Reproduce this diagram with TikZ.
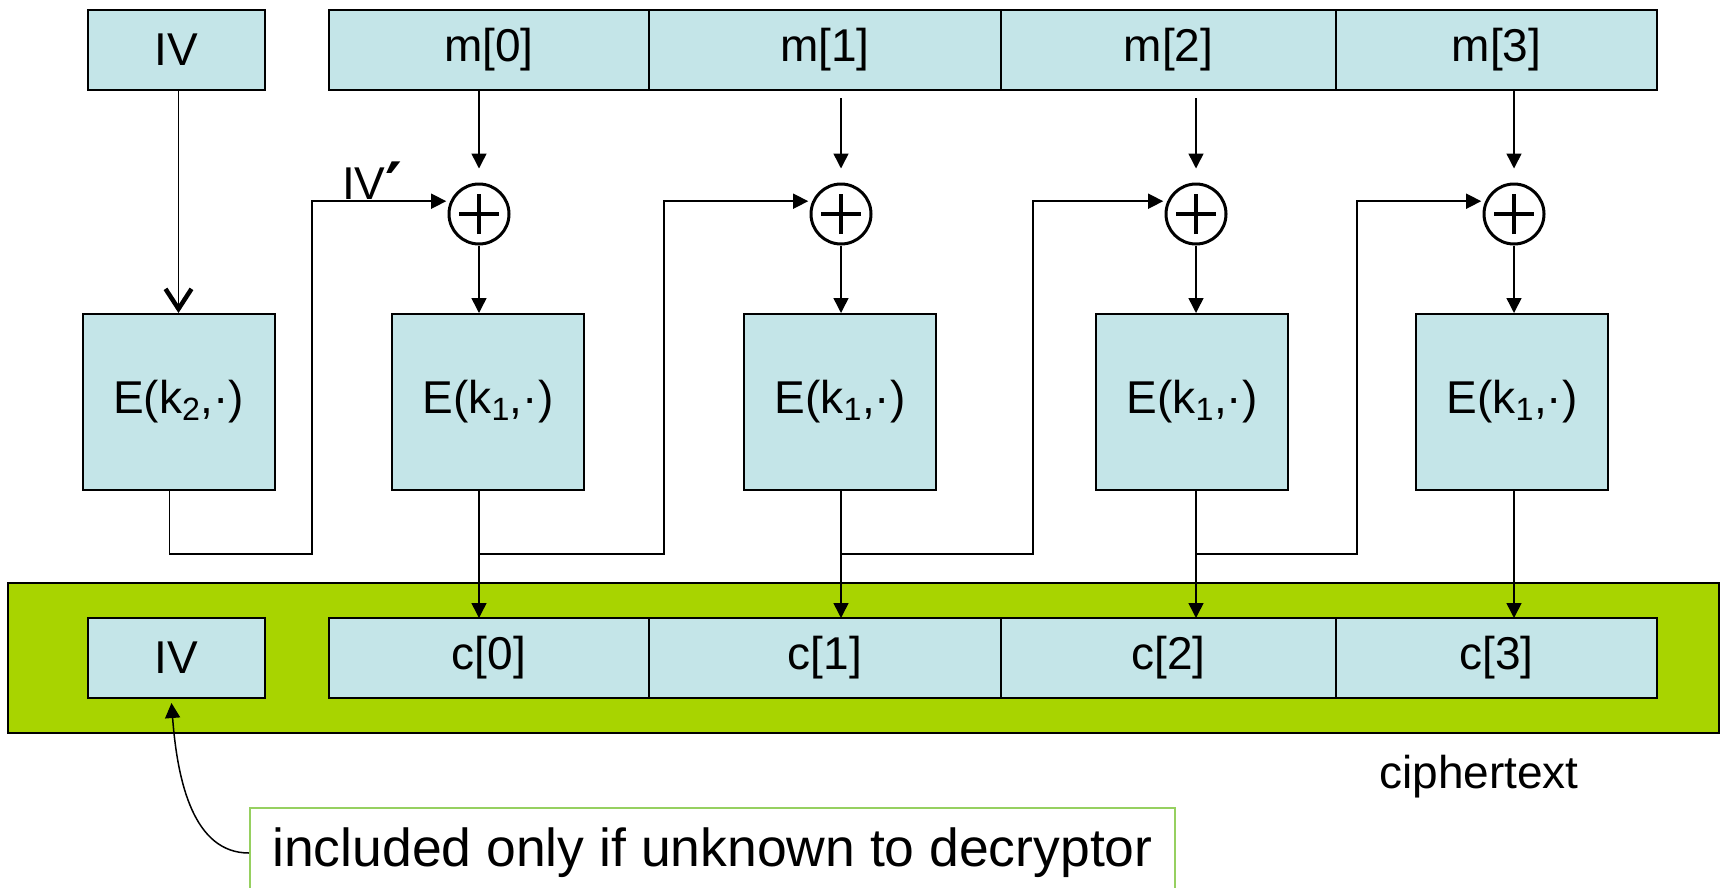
\RequirePackage{fix-cm}
\documentclass[tikz,border=0pt]{standalone}
\usepackage{fontspec}
\setmainfont{Liberation Sans}
\newfontfamily\primefont{DejaVu Sans}
\usetikzlibrary{positioning, arrows.meta}
\definecolor{cellblue}{RGB}{196,229,232}
\definecolor{ctgreen}{RGB}{168,212,0}
\definecolor{notegreen}{RGB}{150,208,96}
\newcommand{\bigfont}{\fontsize{46}{55}\selectfont}
\tikzstyle{block} = [rectangle, draw=black, line width=2pt, fill=cellblue, minimum height=80pt, outer sep=0pt, inner sep=0pt, font=\bigfont]
\tikzstyle{cipher} = [rectangle, draw=black, line width=2pt, fill=cellblue, minimum width=192pt, minimum height=176pt, inner sep=0pt, font=\bigfont]
\tikzstyle{xor} = [circle, draw=black, line width=3pt, minimum size=60pt, inner sep=0pt, path picture={
    \draw[line width=3.2pt] (path picture bounding box.center) ++(-20pt,0pt) -- ++(40pt,0pt);
    \draw[line width=3.2pt] (path picture bounding box.center) ++(0pt,-20pt) -- ++(0pt,40pt);}]
\tikzstyle{wire} = [line width=1.5pt]
\tikzstyle{arrow} = [line width=1.5pt, -{Triangle[length=15pt,width=15pt]}]

\begin{document}
\begin{tikzpicture}[x=1pt, y=-1pt]
		\useasboundingbox (0,0) rectangle (1725,887);
		\node (ctbox) [rectangle, draw=black, line width=2pt, fill=ctgreen, minimum width=1711pt, minimum height=150pt] at (863.5,658) {};

		\node (ivtop) [block, minimum width=177pt] at (176.5,50) {IV};
		\node (m0) [block, minimum width=320pt, anchor=west] at (329,50) {m[0]};
		\node (m1) [block, minimum width=352pt, right=0pt of m0] {m[1]};
		\node (m2) [block, minimum width=335pt, right=0pt of m1] {m[2]};
		\node (m3) [block, minimum width=321pt, right=0pt of m2] {m[3]};

		\node (x0) [xor] at (479,214) {};
		\node (x1) [xor] at (841,214) {};
		\node (x2) [xor] at (1196,214) {};
		\node (x3) [xor] at (1514,214) {};

		\node (ek2) [cipher] at (178.5,402) {E(k\textsubscript{2},·)};
		\node (e0) [cipher] at (488,402) {E(k\textsubscript{1},·)};
		\node (e1) [cipher] at (840,402) {E(k\textsubscript{1},·)};
		\node (e2) [cipher] at (1192,402) {E(k\textsubscript{1},·)};
		\node (e3) [cipher] at (1512,402) {E(k\textsubscript{1},·)};

		\node (ivbot) [block, minimum width=177pt] at (176.5,658) {IV};
		\node (c0) [block, minimum width=320pt, anchor=west] at (329,658) {c[0]};
		\node (c1) [block, minimum width=352pt, right=0pt of c0] {c[1]};
		\node (c2) [block, minimum width=335pt, right=0pt of c1] {c[2]};
		\node (c3) [block, minimum width=321pt, right=0pt of c2] {c[3]};

		\node (ctlabel) [anchor=base, font=\bigfont] at (1479,788) {ciphertext};
		\node (ivlabel) [anchor=base west, inner sep=0pt, font=\bigfont] at (342,199) {IV\raisebox{-9pt}{\primefont\bfseries\fontsize{64}{64}\selectfont ′}};
		\node (note) [rectangle, draw=notegreen, line width=2pt, minimum width=925pt, minimum height=90pt, anchor=north west, font=\fontsize{53.5}{64}\selectfont] at (249,807) {included only if unknown to decryptor};

		\coordinate (f0) at (312,554);
		\coordinate (f1) at (664,554);
		\coordinate (f2) at (1033,554);
		\coordinate (f3) at (1357,554);

		\draw [wire, -{Straight Barb[length=20pt,width=26pt,line width=4.5pt]}] (ek2.north |- ivtop.south) -- (ek2.north);
		\draw [arrow, shorten >=14pt] (x0 |- m0.south) -- (x0.north);
		\draw [arrow, shorten <=8pt, shorten >=14pt] (x1 |- m1.south) -- (x1.north);
		\draw [arrow, shorten <=8pt, shorten >=14pt] (x2 |- m2.south) -- (x2.north);
		\draw [arrow, shorten >=14pt] (x3 |- m3.south) -- (x3.north);

		\draw [arrow] (x0.south) -- (x0 |- e0.north);
		\draw [arrow] (x1.south) -- (x1 |- e1.north);
		\draw [arrow] (x2.south) -- (x2 |- e2.north);
		\draw [arrow] (x3.south) -- (x3 |- e3.north);

		\draw [arrow] (x0 |- e0.south) -- (x0 |- c0.north);
		\draw [arrow] (x1 |- e1.south) -- (x1 |- c1.north);
		\draw [arrow] (x2 |- e2.south) -- (x2 |- c2.north);
		\draw [arrow] (x3 |- e3.south) -- (x3 |- c3.north);

		\draw [arrow, shorten >=4pt] ([xshift=-9pt]ek2.south) |- (f0) |- (x0.156);
		\draw [arrow, shorten >=4pt] (x0 |- f1) -- (f1) |- (x1.156);
		\draw [arrow, shorten >=4pt] (x1 |- f2) -- (f2) |- (x2.156);
		\draw [arrow, shorten >=4pt] (x2 |- f3) -- (f3) |- (x3.156);

		\draw [arrow] (note.west) .. controls +(-55,0) and +(6,80) .. ([xshift=-5pt,yshift=-5pt]ivbot.south);
	\end{tikzpicture}
\end{document}
